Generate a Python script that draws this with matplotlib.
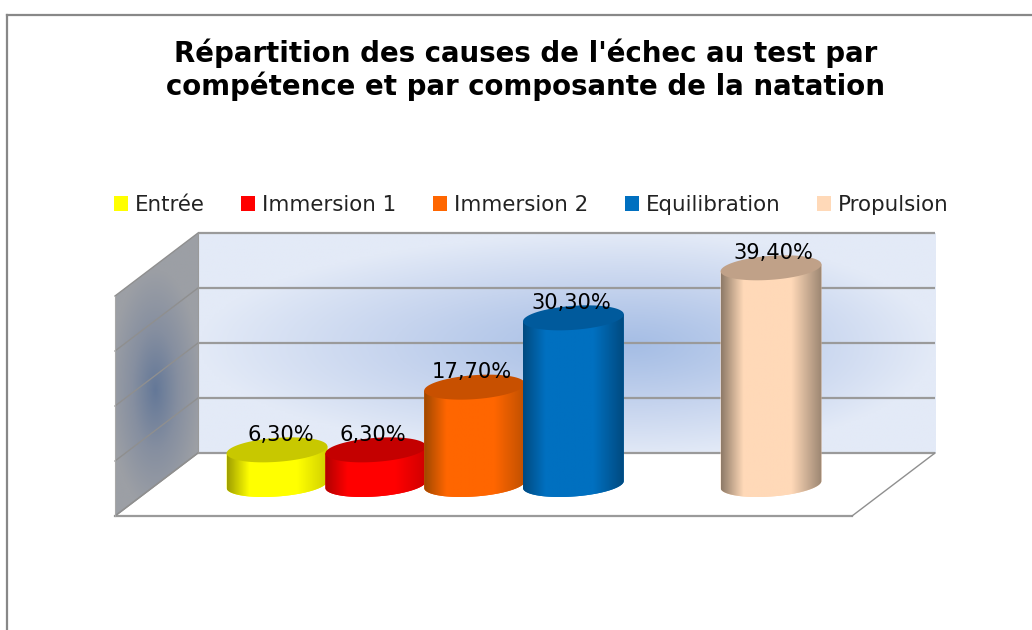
import numpy as np
import matplotlib
matplotlib.use("Agg")
import matplotlib.pyplot as plt
from matplotlib.patches import Patch, PathPatch, Polygon
from matplotlib.path import Path
from matplotlib.colors import LinearSegmentedColormap
from matplotlib.lines import Line2D

title = "Répartition des causes de l'échec au test par\ncompétence et par composante de la natation"
categories = ["Entrée", "Immersion 1", "Immersion 2", "Equilibration", "Propulsion"]
values = [6.3, 6.3, 17.7, 30.3, 39.4]
labels = ["6,30%", "6,30%", "17,70%", "30,30%", "39,40%"]
slots = [0, 1, 2, 3, 5]
label_dx = [0.04, -0.03, -0.03, -0.02, 0.02]
face = ["#FFFF00", "#FF0000", "#FF6600", "#0070C0", "#FFD9B8"]
top_c = ["#C8C800", "#C40000", "#C85000", "#005A9C", "#C0A188"]
edge_l = ["#A0A000", "#B00000", "#A04800", "#004A80", "#8F7B68"]
edge_r = ["#D0D000", "#D00000", "#C05000", "#004A80", "#9C8672"]
grid_ticks = [0, 10, 20, 30, 40]

W, H = 1032, 630
PX_X, X0 = 98.8, 277.0     # pixels per category slot, pixel of slot 0
PX_Y, Y0 = 5.5, 484.5      # pixels per percent, pixel of value 0
fig = plt.figure(figsize=(W / 100, H / 100), dpi=100, facecolor="white")
ax = fig.add_axes([0, 0, 1, 1])
ax.axis("off")
XL = (-X0 / PX_X, (W - X0) / PX_X)
YL = ((Y0 - H) / PX_Y, Y0 / PX_Y)

# 3-D box offsets, in axis units
depth_y = (Y0 - 453) / PX_Y
depth_x = 83 / PX_X
wall_l, wall_r = (198 - X0) / PX_X, (935 - X0) / PX_X
y_lo, y_hi = grid_ticks[0] + depth_y, grid_ticks[-1] + depth_y

# back wall
xx, yy = np.meshgrid(np.linspace(wall_l, wall_r, 300), np.linspace(y_lo, y_hi, 150))
cx, cy = (630 - X0) / PX_X, (Y0 - 345) / PX_Y
rx = np.where(xx < cx, cx - wall_l, wall_r - cx)
t = np.clip(np.hypot((xx - cx) / rx, (yy - cy) / (y_hi - cy)), 0, 1) ** 1.15
cm = LinearSegmentedColormap.from_list("w", ["#A6BEE5", "#C6D4EE", "#E3EAF7"])
ax.imshow(t, extent=(wall_l, wall_r, y_lo, y_hi), origin="lower", cmap=cm, vmin=0, vmax=1,
          aspect="auto", zorder=1, interpolation="bilinear")

# side wall
sl = wall_l - depth_x
poly = [(sl, y_lo - 2 * depth_y + 0.0), (wall_l, y_lo), (wall_l, y_hi), (sl, y_hi - depth_y * 2)]
xx, yy = np.meshgrid(np.linspace(sl, wall_l, 100), np.linspace(y_lo - 2 * depth_y, y_hi, 200))
scx, scy = (155 - X0) / PX_X, (Y0 - 390) / PX_Y
t = np.clip(np.hypot((xx - scx) / (0.55 * depth_x), (yy - scy) / 22), 0, 1)
cm2 = LinearSegmentedColormap.from_list("s", ["#647898", "#868FA0", "#9C9FA5"])
im = ax.imshow(t, extent=(sl, wall_l, y_lo - 2 * depth_y, y_hi), origin="lower", cmap=cm2,
               vmin=0, vmax=1, aspect="auto", zorder=1, interpolation="bilinear")
side = Polygon(poly, closed=True, transform=ax.transData, fc="none", ec="none")
ax.add_patch(side)
im.set_clip_path(side)

# grid lines
for g in grid_ticks:
    ax.plot([wall_l, wall_r], [g + depth_y] * 2, color="#9A9A9A", lw=1.6, zorder=2, solid_capstyle="butt")
    ax.plot([sl, wall_l], [g + depth_y - 2 * depth_y, g + depth_y], color="#8F8F8F", lw=1.0, zorder=2)
# floor
fr = wall_r - depth_x
ax.plot([sl, fr], [y_lo - 2 * depth_y] * 2, color="#9A9A9A", lw=1.6, zorder=2)
ax.plot([fr, wall_r], [y_lo - 2 * depth_y, y_lo], color="#8F8F8F", lw=1.0, zorder=2)
ax.plot([sl, wall_l], [y_lo - 2 * depth_y, y_lo], color="#8F8F8F", lw=1.0, zorder=2)
ax.plot([sl, sl], [y_lo - 2 * depth_y, y_hi - 2 * depth_y], color="#A8A8A8", lw=0.8, zorder=2)
ax.plot([wall_l, wall_l], [y_lo, y_hi], color="#9A9A9A", lw=0.8, zorder=2)

# cylinders
half_w = 0.51
shear = 3.5 / PX_Y
minor = 12.0 / PX_Y
theta = np.linspace(0, 2 * np.pi, 181)


def ellipse(x, v):
    return (x + half_w * np.cos(theta),
            v - minor * np.sin(theta) + shear * np.cos(theta))


for i, (s, v) in enumerate(zip(slots, values)):
    z = 3 + i
    ex, ey0 = ellipse(s, 0)
    _, ey1 = ellipse(s, v)
    lower = theta <= np.pi
    order = np.argsort(ex[lower])
    bx, by = ex[lower][order], ey0[lower][order]
    top_x = s + half_w * np.array([1.0, -1.0])
    top_y = v + shear * np.array([1.0, -1.0])
    verts = np.column_stack([np.r_[bx, top_x], np.r_[by, top_y]])
    body = Path(np.vstack([verts, verts[0]]), closed=True)
    patch = PathPatch(body, fc=face[i], ec="none", zorder=z)
    ax.add_patch(patch)
    cmap = LinearSegmentedColormap.from_list(
        f"b{i}", [(0, edge_l[i]), (0.22, face[i]), (0.7, face[i]), (1, edge_r[i])])
    grad = ax.imshow(np.linspace(0, 1, 128)[None, :], extent=(s - half_w, s + half_w, -5, v + 5),
                     cmap=cmap, aspect="auto", zorder=z + 0.1, interpolation="bilinear")
    grad.set_clip_path(patch)
    ax.fill(ex, ey1, color=top_c[i], lw=0, zorder=z + 0.2)

for s, v, lab, dx in zip(slots, values, labels, label_dx):
    ax.text(s + dx, v + 2.7, lab, ha="center", va="center", fontsize=15.1, color="black", zorder=20)

ax.set_xlim(*XL)
ax.set_ylim(*YL)

handles = [Patch(fc=c, ec="none", label=n) for c, n in zip(face, categories)]
leg = fig.legend(handles=handles, ncol=5, loc="center", bbox_to_anchor=(531.5 / W, 1 - 205 / H),
                 frameon=False, fontsize=15.4, handlelength=0.66, handleheight=0.75,
                 handletextpad=0.33, columnspacing=1.7, labelcolor="#222222")

fig.text(526 / W, 1 - 70 / H, title, ha="center", va="center", fontsize=19.9, fontweight="bold",
         linespacing=1.15, color="black")

fig.add_artist(Line2D([7 / W, 7 / W], [0, 1 - 15 / H], color="#888888", lw=1.6))
fig.add_artist(Line2D([7 / W, 1], [1 - 15 / H, 1 - 15 / H], color="#888888", lw=1.6))

fig.savefig("out.png", dpi=100, facecolor="white")
